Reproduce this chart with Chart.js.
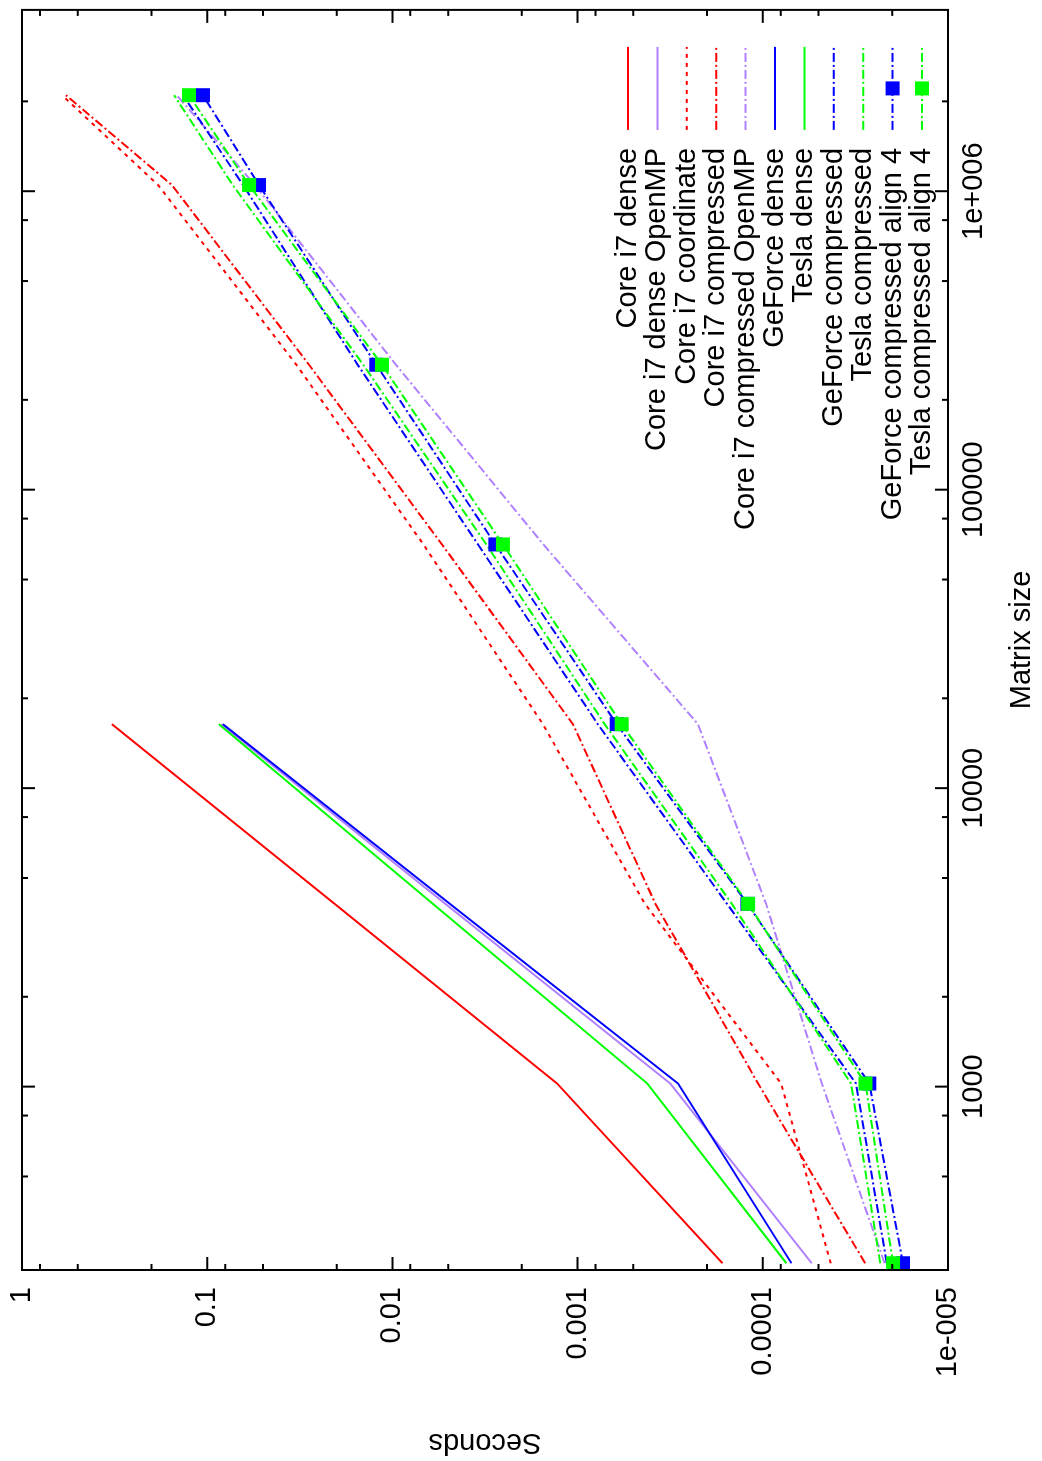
<!DOCTYPE html>
<html>
<head>
<meta charset="utf-8">
<title>Matrix size vs seconds</title>
<script src="https://cdn.jsdelivr.net/npm/chart.js@4.4.1/dist/chart.umd.min.js"></script>
<style>
  html, body { margin: 0; padding: 0; background: #fff; overflow: hidden; }
  /* the chart is drawn landscape and turned a quarter to the left */
  #wrap {
    position: absolute; left: 0; top: 0;
    width: 1461px; height: 1042px;
    transform-origin: 0 0;
    transform: translate(0, 1461px) rotate(-90deg);
  }
</style>
</head>
<body>
<div id="wrap"><canvas id="timingChart" width="1461" height="1042"></canvas></div>
<script>
// matrix sizes measured
const matrixSizes = [256, 1024, 4096, 16384, 65536, 262144, 1048576, 2097152];

// seconds per run (dense runs stop at 16384)
const coreDense         = [1.65e-4, 1.29e-3, 0.0205, 0.327];
const coreDenseOmp      = [5.44e-5, 3.16e-4, 5.17e-3, 0.084];
const coreCoordinate    = [4.3e-5, 7.96e-5, 4.33e-4, 1.54e-3, 6.8e-3, 0.033, 0.184, 0.608];
const coreCompressed    = [2.8e-5, 1.06e-4, 3.8e-4, 1.06e-3, 5.4e-3, 0.0282, 0.155, 0.579];
const coreCompressedOmp = [2.2e-5, 4.8e-5, 9.6e-5, 2.24e-4, 1.53e-3, 9.57e-3, 0.0552, 0.146];
const geforceDense      = [7.0e-5, 2.87e-4, 4.89e-3, 0.0824];
const teslaDense        = [7.46e-5, 4.2e-4, 6.04e-3, 0.0864];
const geforceCompressed = [2.14e-5, 3.14e-5, 1.56e-4, 7.78e-4, 3.45e-3, 0.0154, 0.064, 0.135];
const teslaCompressed   = [2.32e-5, 3.34e-5, 1.47e-4, 7.14e-4, 3.11e-3, 0.01436, 0.0728, 0.151];
const geforceAlign4     = [1.75e-5, 2.66e-5, 1.21e-4, 6.15e-4, 2.78e-3, 0.01222, 0.0525, 0.1054];
const teslaAlign4       = [1.98e-5, 2.79e-5, 1.2e-4, 5.78e-4, 2.53e-3, 0.01138, 0.0594, 0.1254];

// axis ticks
const sizeTicks = [1000, 10000, 100000, 1000000];
const sizeTickLabels = ['1000', '10000', '100000', '1e+006'];
const secondTicks = [1e-5, 1e-4, 1e-3, 0.01, 0.1, 1];
const secondTickLabels = ['1e-005', '0.0001', '0.001', '0.01', '0.1', '1'];

const FONT = 'Liberation Sans, Arial, Helvetica, sans-serif';
const RED = '#ff0000', PURPLE = '#b080ff', BLUE = '#0000ff', GREEN = '#00ff00';
const DOTS = [4, 5];
const DASH_DOT = [9, 3, 2, 3];

let series = [
  { label: 'Core i7 dense', data: coreDense, color: RED, dash: [] },
  { label: 'Core i7 dense OpenMP', data: coreDenseOmp, color: PURPLE, dash: [] },
  { label: 'Core i7 coordinate', data: coreCoordinate, color: RED, dash: DOTS },
  { label: 'Core i7 compressed', data: coreCompressed, color: RED, dash: DASH_DOT },
  { label: 'Core i7 compressed OpenMP', data: coreCompressedOmp, color: PURPLE, dash: DASH_DOT },
  { label: 'GeForce dense', data: geforceDense, color: BLUE, dash: [] },
  { label: 'Tesla dense', data: teslaDense, color: GREEN, dash: [] },
  { label: 'GeForce compressed', data: geforceCompressed, color: BLUE, dash: DASH_DOT },
  { label: 'Tesla compressed', data: teslaCompressed, color: GREEN, dash: DASH_DOT },
  { label: 'GeForce compressed align 4', data: geforceAlign4, color: BLUE, dash: DASH_DOT, marker: true },
  { label: 'Tesla compressed align 4', data: teslaAlign4, color: GREEN, dash: DASH_DOT, marker: true }
];

let datasets = series.map((s, i) => ({
  label: s.label,
  data: s.data.map((v, j) => ({ x: matrixSizes[j], y: v })),
  borderColor: s.color,
  backgroundColor: s.color,
  borderWidth: 2,
  borderDash: s.dash,
  tension: 0,
  fill: false,
  pointStyle: 'rect',
  pointRadius: s.marker ? 9.9 : 0,
  pointHoverRadius: s.marker ? 9.9 : 0,
  pointBorderWidth: 0,
  pointBackgroundColor: s.color,
  order: -i   // later series on top, like gnuplot
}));

// frame with inward ticks on all four sides, plus the gnuplot style key
const frameAndKey = {
  id: 'frameAndKey',
  afterDatasetsDraw(chart) {
    const { ctx, chartArea: a, scales: { x, y } } = chart;
    const minorSteps = [2, 5, 8];
    ctx.save();
    ctx.strokeStyle = '#000';
    ctx.lineWidth = 2;
    ctx.setLineDash([]);
    ctx.beginPath();
    const xTick = (px, len) => {
      ctx.moveTo(px, a.bottom); ctx.lineTo(px, a.bottom - len);
      ctx.moveTo(px, a.top); ctx.lineTo(px, a.top + len);
    };
    const yTick = (py, len) => {
      ctx.moveTo(a.left, py); ctx.lineTo(a.left + len, py);
      ctx.moveTo(a.right, py); ctx.lineTo(a.right - len, py);
    };
    for (let d = 100; d <= 1e6; d *= 10) {
      if (d >= x.min && d <= x.max) xTick(x.getPixelForValue(d), 13);
      minorSteps.forEach(m => {
        const v = d * m;
        if (v >= x.min && v <= x.max) xTick(x.getPixelForValue(v), 6);
      });
    }
    for (let d = 1e-5; d <= 1.0001; d *= 10) {
      yTick(y.getPixelForValue(d), 13);
      minorSteps.forEach(m => {
        const v = d * m;
        if (v < 1) yTick(y.getPixelForValue(v), 6);
      });
    }
    ctx.stroke();
    ctx.strokeRect(a.left, a.top, a.right - a.left, a.bottom - a.top);

    // key, bottom right of the plot
    ctx.font = '29px ' + FONT;
    ctx.textAlign = 'right';
    ctx.textBaseline = 'middle';
    ctx.fillStyle = '#000';
    chart.data.datasets.forEach((ds, i) => {
      const cy = a.bottom - 320 + i * 29.4;
      ctx.fillText(ds.label, a.right - 138, cy);
      ctx.strokeStyle = ds.borderColor;
      ctx.lineWidth = 2;
      ctx.setLineDash(ds.borderDash);
      ctx.beginPath();
      ctx.moveTo(a.right - 120, cy);
      ctx.lineTo(a.right - 37, cy);
      ctx.stroke();
      if (ds.pointRadius > 0) {
        ctx.fillStyle = ds.borderColor;
        ctx.fillRect(a.right - 85.5, cy - 7, 14, 14);
        ctx.fillStyle = '#000';
      }
    });
    ctx.restore();
  }
};

new Chart(document.getElementById('timingChart'), {
  type: 'line',
  data: { datasets: datasets },
  options: {
    responsive: false,
    animation: false,
    devicePixelRatio: 1,
    layout: { padding: { top: 22, right: 2, bottom: 0, left: 0 } },
    plugins: { legend: { display: false }, tooltip: { enabled: false } },
    scales: {
      x: {
        type: 'logarithmic',
        position: 'bottom',
        min: 243,
        max: 4.05e6,
        grid: { display: false, drawTicks: false },
        border: { display: false },
        afterBuildTicks: s => { s.ticks = sizeTicks.map(v => ({ value: v })); },
        afterFit: s => { s.height = 94; s.paddingLeft = 0; s.paddingRight = 0; },
        ticks: {
          autoSkip: false,
          maxRotation: 0,
          padding: 9,
          color: '#000',
          font: { family: FONT, size: 29 },
          callback: (v, i) => sizeTickLabels[i]
        },
        title: {
          display: true,
          text: 'Matrix size',
          color: '#000',
          font: { family: FONT, size: 29 },
          padding: { top: 0, bottom: 3 }
        }
      },
      y: {
        type: 'logarithmic',
        position: 'left',
        min: 1e-5,
        max: 1,
        grid: { display: false, drawTicks: false },
        border: { display: false },
        afterBuildTicks: s => { s.ticks = secondTicks.map(v => ({ value: v })); },
        afterFit: s => { s.width = 191; s.paddingTop = 0; s.paddingBottom = 0; },
        ticks: {
          autoSkip: false,
          padding: 17,
          color: '#000',
          font: { family: FONT, size: 29 },
          callback: (v, i) => secondTickLabels[i]
        },
        title: {
          display: true,
          text: 'Seconds',
          color: '#000',
          font: { family: FONT, size: 29 },
          padding: { top: 2, bottom: 0 }
        }
      }
    }
  },
  plugins: [frameAndKey]
});
</script>
</body>
</html>
